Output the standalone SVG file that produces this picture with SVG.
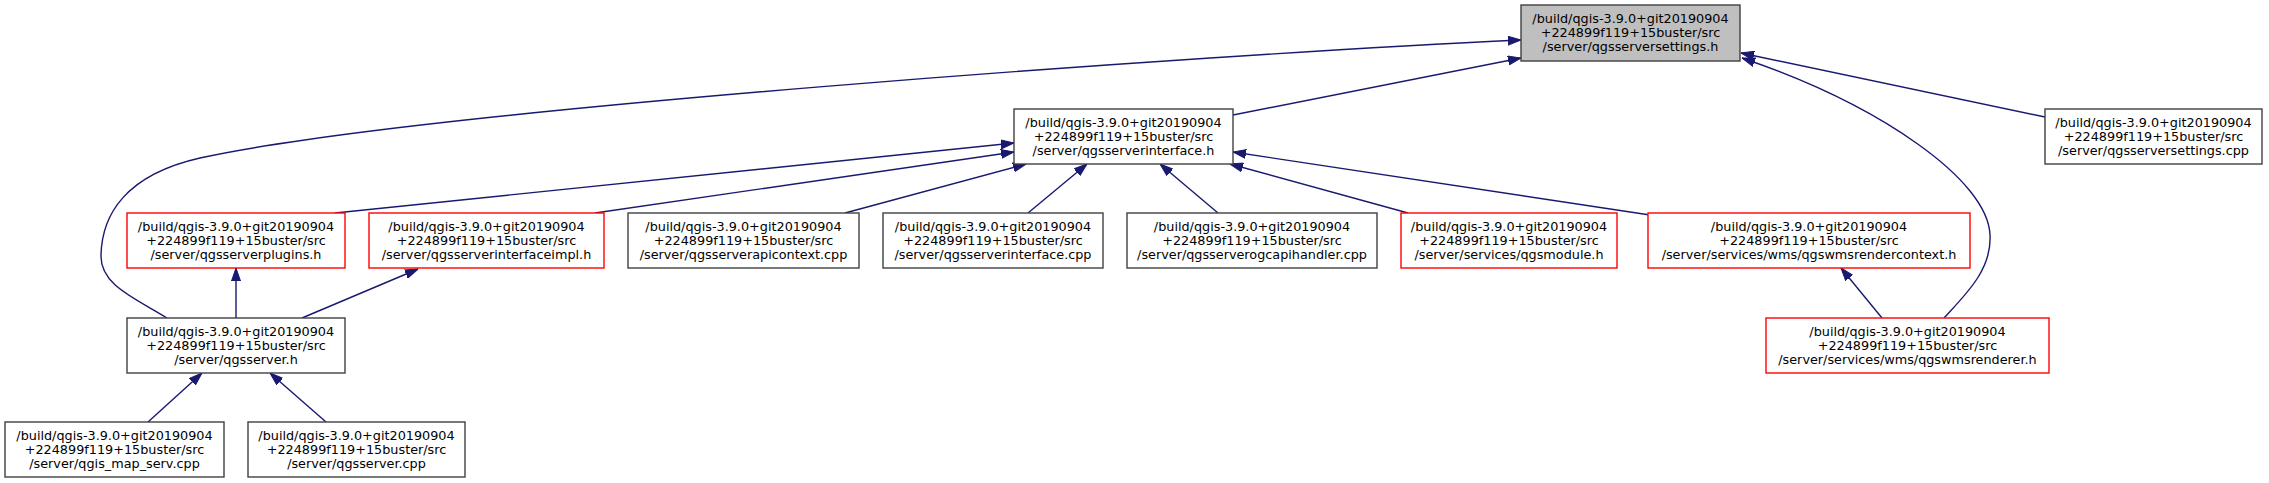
<svg xmlns="http://www.w3.org/2000/svg" width="2269" height="483" viewBox="0 0 2269 483">
<style>
.n rect{fill:#ffffff;stroke:#404040;stroke-width:1.4}
.n.r rect{stroke:#ff0000}
.n.g rect{fill:#bfbfbf}
.n text{font-family:"DejaVu Sans",sans-serif;font-size:12.8px;fill:#000000;text-anchor:middle}
.e path{fill:none;stroke:#191970;stroke-width:1.4;marker-end:url(#ah)}
</style>
<defs>
<marker id="ah" markerUnits="userSpaceOnUse" viewBox="0 0 13 10" refX="13" refY="5" markerWidth="13" markerHeight="10" orient="auto">
<path d="M0,0.5 L13,5 L0,9.5 z" fill="#191970" stroke="#191970" stroke-width="1"/>
</marker>
</defs>
<rect width="2269" height="483" fill="#ffffff"/>
<g id="edges" class="e">
<path d="M1233,115 L1521,58"/>
<path d="M167,318 C135,298 100,285 101,255 C102,215 125,175 200,158 C420,110 1200,55 1521,40"/>
<path d="M2045,117 L1741,53"/>
<path d="M1944,318 C1965,295 1992,270 1990,235 C1988,180 1880,105 1742,58"/>
<path d="M335,213 L1014,143"/>
<path d="M595,213 L1014,152"/>
<path d="M845,213 L1026,164"/>
<path d="M1028,213 L1087,164"/>
<path d="M1218,213 L1160,164"/>
<path d="M1408,213 L1230,164"/>
<path d="M1650,215 L1233,152"/>
<path d="M236,318 L236,268"/>
<path d="M302,318 L418,269"/>
<path d="M1882,318 L1841,268"/>
<path d="M148,422 L202,373"/>
<path d="M326,422 L270,373"/>
</g>
<g id="n_settings_h" class="n g"><rect x="1521" y="5" width="219" height="56"/><text x="1630.5" y="23">/build/qgis-3.9.0+git20190904</text><text x="1630.5" y="37">+224899f119+15buster/src</text><text x="1630.5" y="51">/server/qgsserversettings.h</text></g>
<g id="n_interface_h" class="n"><rect x="1014" y="109" width="219" height="55"/><text x="1123.5" y="126.5">/build/qgis-3.9.0+git20190904</text><text x="1123.5" y="140.5">+224899f119+15buster/src</text><text x="1123.5" y="154.5">/server/qgsserverinterface.h</text></g>
<g id="n_settings_cpp" class="n"><rect x="2045" y="109" width="217" height="55"/><text x="2153.5" y="126.5">/build/qgis-3.9.0+git20190904</text><text x="2153.5" y="140.5">+224899f119+15buster/src</text><text x="2153.5" y="154.5">/server/qgsserversettings.cpp</text></g>
<g id="n_plugins_h" class="n r"><rect x="127" y="213" width="218" height="55"/><text x="236" y="230.5">/build/qgis-3.9.0+git20190904</text><text x="236" y="244.5">+224899f119+15buster/src</text><text x="236" y="258.5">/server/qgsserverplugins.h</text></g>
<g id="n_interfaceimpl_h" class="n r"><rect x="369" y="213" width="235" height="55"/><text x="486.5" y="230.5">/build/qgis-3.9.0+git20190904</text><text x="486.5" y="244.5">+224899f119+15buster/src</text><text x="486.5" y="258.5">/server/qgsserverinterfaceimpl.h</text></g>
<g id="n_apicontext_cpp" class="n"><rect x="628" y="213" width="231" height="55"/><text x="743.5" y="230.5">/build/qgis-3.9.0+git20190904</text><text x="743.5" y="244.5">+224899f119+15buster/src</text><text x="743.5" y="258.5">/server/qgsserverapicontext.cpp</text></g>
<g id="n_interface_cpp" class="n"><rect x="883" y="213" width="220" height="55"/><text x="993" y="230.5">/build/qgis-3.9.0+git20190904</text><text x="993" y="244.5">+224899f119+15buster/src</text><text x="993" y="258.5">/server/qgsserverinterface.cpp</text></g>
<g id="n_ogcapihandler_cpp" class="n"><rect x="1127" y="213" width="250" height="55"/><text x="1252" y="230.5">/build/qgis-3.9.0+git20190904</text><text x="1252" y="244.5">+224899f119+15buster/src</text><text x="1252" y="258.5">/server/qgsserverogcapihandler.cpp</text></g>
<g id="n_qgsmodule_h" class="n r"><rect x="1401" y="213" width="216" height="55"/><text x="1509" y="230.5">/build/qgis-3.9.0+git20190904</text><text x="1509" y="244.5">+224899f119+15buster/src</text><text x="1509" y="258.5">/server/services/qgsmodule.h</text></g>
<g id="n_rendercontext_h" class="n r"><rect x="1648" y="213" width="322" height="55"/><text x="1809" y="230.5">/build/qgis-3.9.0+git20190904</text><text x="1809" y="244.5">+224899f119+15buster/src</text><text x="1809" y="258.5">/server/services/wms/qgswmsrendercontext.h</text></g>
<g id="n_qgsserver_h" class="n"><rect x="127" y="318" width="218" height="55"/><text x="236" y="335.5">/build/qgis-3.9.0+git20190904</text><text x="236" y="349.5">+224899f119+15buster/src</text><text x="236" y="363.5">/server/qgsserver.h</text></g>
<g id="n_renderer_h" class="n r"><rect x="1766" y="318" width="283" height="55"/><text x="1907.5" y="335.5">/build/qgis-3.9.0+git20190904</text><text x="1907.5" y="349.5">+224899f119+15buster/src</text><text x="1907.5" y="363.5">/server/services/wms/qgswmsrenderer.h</text></g>
<g id="n_map_serv_cpp" class="n"><rect x="5" y="422" width="219" height="55"/><text x="114.5" y="439.5">/build/qgis-3.9.0+git20190904</text><text x="114.5" y="453.5">+224899f119+15buster/src</text><text x="114.5" y="467.5">/server/qgis_map_serv.cpp</text></g>
<g id="n_qgsserver_cpp" class="n"><rect x="248" y="422" width="217" height="55"/><text x="356.5" y="439.5">/build/qgis-3.9.0+git20190904</text><text x="356.5" y="453.5">+224899f119+15buster/src</text><text x="356.5" y="467.5">/server/qgsserver.cpp</text></g>
</svg>
